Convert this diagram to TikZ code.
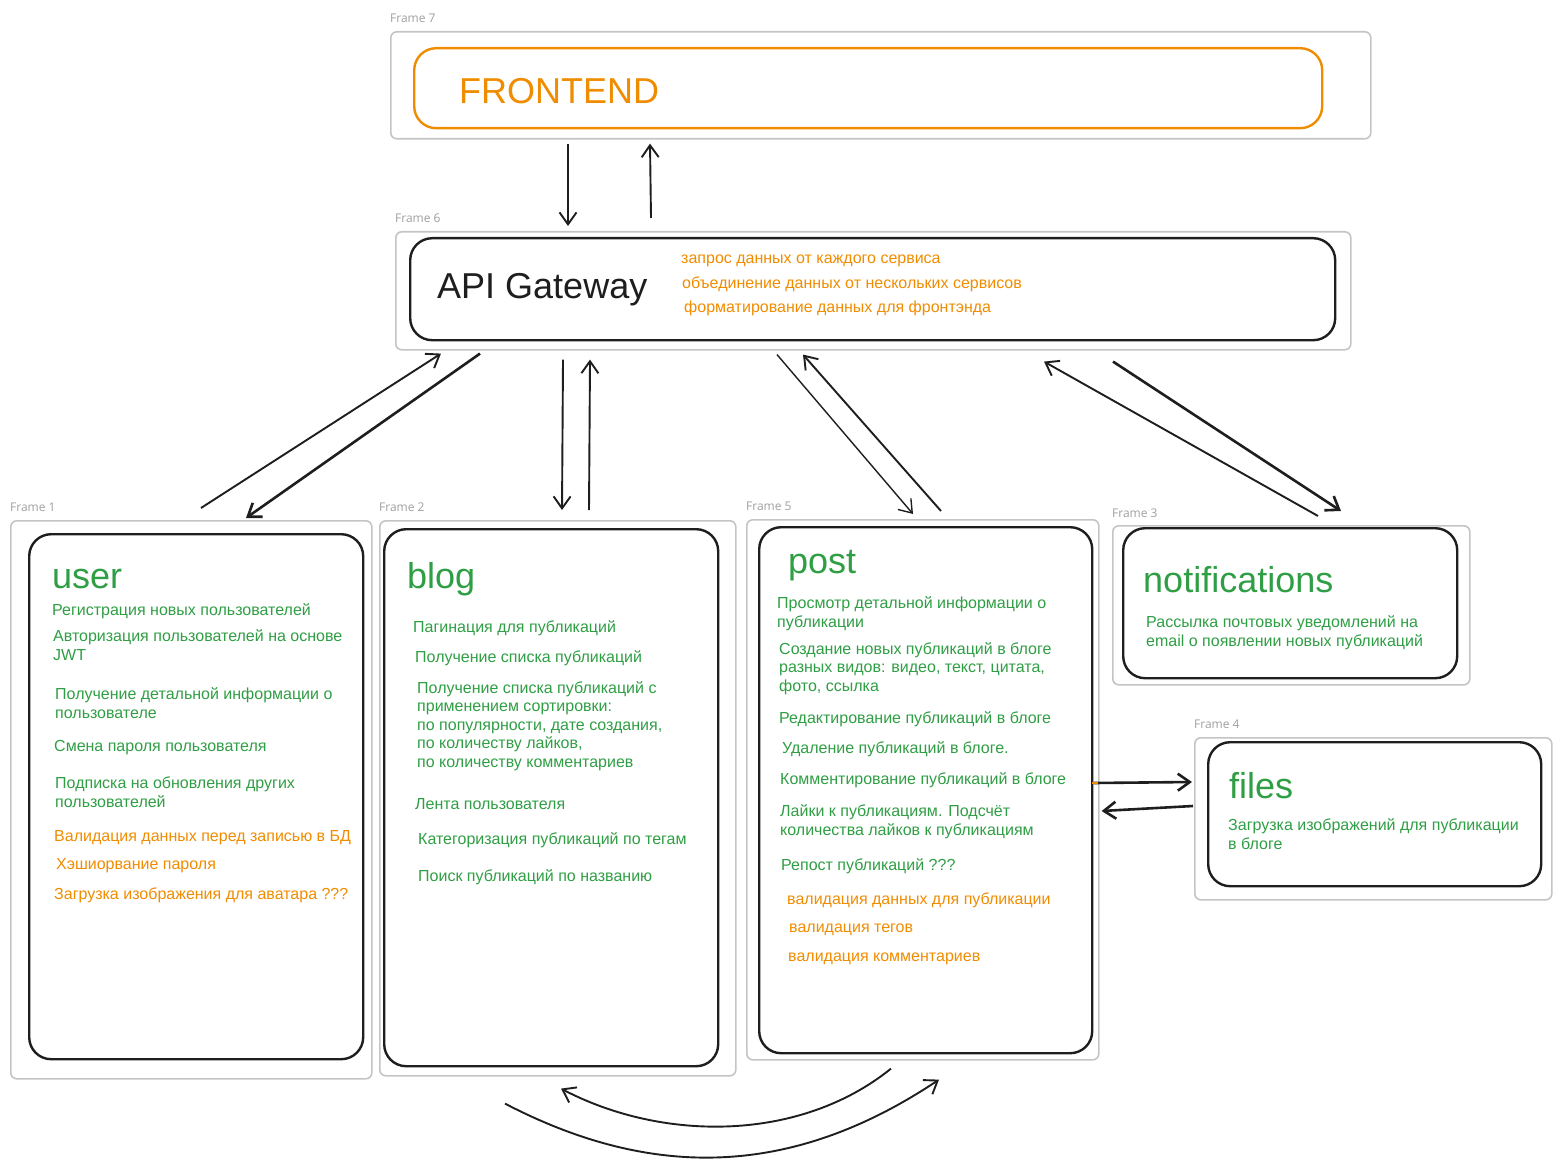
\documentclass[tikz,border=0pt]{standalone}
\usepackage{fontspec}
\setmainfont{Liberation Sans}
\newfontfamily\framefont{Open Sans}
\usetikzlibrary{arrows.meta,positioning}
\definecolor{exgreen}{HTML}{2F9E44}
\definecolor{exorange}{HTML}{F08C00}
\definecolor{framegray}{HTML}{C4C4C4}
\definecolor{inkblack}{HTML}{1E1E1E}
\newcommand{\itemstrut}{\rule{0pt}{14pt}}

\begin{document}
\begin{tikzpicture}[x=1pt,y=-1pt]
\tikzset{
  svcframe/.style={draw=framegray,line width=1.6pt,rounded corners=6pt,anchor=north west,inner sep=0pt},
  framelabel/.style={anchor=west,inner sep=0pt,text=gray!75,font=\framefont\fontsize{12}{14}\selectfont},
  service/.style={draw=inkblack,line width=2.4pt,rounded corners=22pt,anchor=north west,inner sep=0pt},
  svctitle/.style={anchor=base west,inner sep=0pt,text=exgreen,font=\fontsize{36}{40}\selectfont},
  svcitem/.style={anchor=north west,inner sep=0pt,align=left,text=exgreen,font=\fontsize{16}{19}\selectfont,execute at begin node=\itemstrut},
  svcnote/.style={svcitem,text=exorange},
  flow/.style={-{Straight Barb[length=12pt,width=17pt]},line width=1.9pt,draw=inkblack},
  heavyflow/.style={flow,line width=2.6pt}
}
\useasboundingbox (0,0) rectangle (1562,1166);

% frames
\node[svcframe,minimum width=980pt,minimum height=107pt] (fr7) at (390,31) {};
\node[svcframe,minimum width=955pt,minimum height=118pt] (fr6) at (395,231) {};
\node[svcframe,minimum width=361pt,minimum height=558pt] (fr1) at (10,520) {};
\node[svcframe,minimum width=356pt,minimum height=555pt] (fr2) at (379,520) {};
\node[svcframe,minimum width=352pt,minimum height=540pt] (fr5) at (746,519) {};
\node[svcframe,minimum width=357pt,minimum height=159pt] (fr3) at (1112,525) {};
\node[svcframe,minimum width=357pt,minimum height=162pt] (fr4) at (1194,737) {};
\node[framelabel] (lb7) at ([yshift=13pt]fr7.north west) {Frame 7};
\node[framelabel] (lb6) at ([yshift=13pt]fr6.north west) {Frame 6};
\node[framelabel] (lb1) at ([yshift=13pt]fr1.north west) {Frame 1};
\node[framelabel] (lb2) at ([yshift=13pt]fr2.north west) {Frame 2};
\node[framelabel] (lb5) at ([yshift=13pt]fr5.north west) {Frame 5};
\node[framelabel] (lb3) at ([yshift=12pt]fr3.north west) {Frame 3};
\node[framelabel] (lb4) at ([yshift=13pt]fr4.north west) {Frame 4};

% service boxes
\node[service,draw=exorange,minimum width=908pt,minimum height=80pt] (frontend) at (413,47) {};
\node[service,minimum width=925pt,minimum height=102pt] (gateway) at (409,237) {};
\node[service,minimum width=334pt,minimum height=525pt] (user) at (28,533) {};
\node[service,minimum width=334pt,minimum height=537pt] (blog) at (383,528) {};
\node[service,minimum width=333pt,minimum height=526pt] (post) at (758,526) {};
\node[service,minimum width=334pt,minimum height=150pt] (notif) at (1122,527) {};
\node[service,minimum width=333pt,minimum height=144pt] (files) at (1207,741) {};

% titles
\node[svctitle,text=exorange] (t_front) at (459,104) {FRONTEND};
\node[svctitle,text=inkblack] (t_gw) at (437,298) {API Gateway};
\node[svctitle] (t_user) at (52,588) {user};
\node[svctitle] (t_blog) at (407,588) {blog};
\node[svctitle] (t_post) at (788,573) {post};
\node[svctitle] (t_notif) at (1143,592) {notifications};
\node[svctitle] (t_files) at (1229,798) {files};

% gateway
\node[svcnote] (gw_1) at (681,249) {запрос данных от каждого сервиса};
\node[svcnote] (gw_2) at (682,274) {объединение данных от нескольких сервисов};
\node[svcnote] (gw_3) at (684,298) {форматирование данных для фронтэнда};

% user
\node[svcitem] (u_1) at (52,601) {Регистрация новых пользователей};
\node[svcitem] (u_2) at (53,629) {Авторизация пользователей на основе\\JWT};
\node[svcitem] (u_3) at (55,687) {Получение детальной информации о\\пользователе};
\node[svcitem] (u_4) at (54,737) {Смена пароля пользователя};
\node[svcitem] (u_5) at (55,777) {Подписка на обновления других\\пользователей};
\node[svcnote] (u_6) at (54,827) {Валидация данных перед записью в БД};
\node[svcnote] (u_7) at (56,855) {Хэшиорвание пароля};
\node[svcnote] (u_8) at (54,885) {Загрузка изображения для аватара ???};

% blog
\node[svcitem] (b_1) at (413,618) {Пагинация для публикаций};
\node[svcitem] (b_2) at (415,648) {Получение списка публикаций};
\node[svcitem,font=\fontsize{16}{18.5}\selectfont] (b_3) at (417,681) {Получение списка публикаций с\\применением сортировки:\\по популярности, дате создания,\\по количеству лайков,\\по количеству комментариев};
\node[svcitem] (b_4) at (415,795) {Лента пользователя};
\node[svcitem] (b_5) at (418,830) {Категоризация публикаций по тегам};
\node[svcitem] (b_6) at (418,867) {Поиск публикаций по названию};

% post
\node[svcitem] (p_1) at (777,596) {Просмотр детальной информации о\\публикации};
\node[svcitem,font=\fontsize{16}{18.5}\selectfont] (p_2) at (779,642) {Создание новых публикаций в блоге\\разных видов: видео, текст, цитата,\\фото, ссылка};
\node[svcitem] (p_3) at (779,709) {Редактирование публикаций в блоге};
\node[svcitem] (p_4) at (782,739) {Удаление публикаций в блоге.};
\node[svcitem] (p_5) at (780,770) {Комментирование публикаций в блоге};
\node[svcitem] (p_6) at (780,804) {Лайки к публикациям. Подсчёт\\количества лайков к публикациям};
\node[svcitem] (p_7) at (781,856) {Репост публикаций ???};
\node[svcnote] (p_8) at (787,890) {валидация данных для публикации};
\node[svcnote] (p_9) at (789,918) {валидация тегов};
\node[svcnote] (p_10) at (788,947) {валидация комментариев};

% notifications, files
\node[svcitem] (n_1) at (1146,615) {Рассылка почтовых уведомлений на\\email о появлении новых публикаций};
\node[svcitem] (f_1) at (1228,818) {Загрузка изображений для публикации\\в блоге};

% connectors
\draw[flow] ([xshift=178pt,yshift=-4pt]fr7.south west) -- ([xshift=173pt,yshift=5pt]fr6.north west);
\draw[flow] ([xshift=256pt,yshift=13pt]fr6.north west) -- ([xshift=260pt,yshift=-4pt]fr7.south west);
\draw[flow] ([xshift=191pt,yshift=12pt]fr1.north west) -- ([xshift=46pt,yshift=-3pt]fr6.south west);
\draw[heavyflow] ([xshift=85pt,yshift=-3pt]fr6.south west) -- ([xshift=236pt,yshift=2pt]fr1.north west);
\draw[flow] ([xshift=168pt,yshift=-9pt]fr6.south west) -- ([xshift=183pt,yshift=10pt]fr2.north west);
\draw[flow] ([xshift=210pt,yshift=10pt]fr2.north west) -- ([xshift=195pt,yshift=-9pt]fr6.south west);
\draw[flow,line width=1.4pt] ([xshift=382pt,yshift=-4pt]fr6.south west) -- ([xshift=167pt,yshift=5pt]fr5.north west);
\draw[flow] ([xshift=195pt,yshift=8pt]fr5.north west) -- ([xshift=408pt,yshift=-4pt]fr6.south west);
\draw[flow] ([xshift=206pt,yshift=9pt]fr3.north west) -- ([xshift=649pt,yshift=-11pt]fr6.south west);
\draw[heavyflow] ([xshift=718pt,yshift=-11pt]fr6.south west) -- ([xshift=229pt,yshift=14pt]fr3.north west);
\draw[heavyflow] ([xshift=-6pt,yshift=-264pt]fr5.north east) -- ([xshift=-2pt,yshift=-45pt]fr4.north west);
\draw[exorange,line width=2.6pt] ([xshift=-8pt,yshift=-264pt]fr5.north east) -- ++(6,0);
\draw[heavyflow] ([xshift=-1pt,yshift=-69pt]fr4.north west) -- ([xshift=2pt,yshift=-292pt]fr5.north east);
\draw[flow] ([xshift=145pt,yshift=-8pt]fr5.south west) .. controls (800,1142) and (663,1142) .. ([xshift=182pt,yshift=-12pt]fr2.south west);
\draw[flow] ([xshift=126pt,yshift=-27pt]fr2.south west) .. controls (650,1179) and (790,1179) .. ([xshift=193pt,yshift=-19pt]fr5.south west);
\end{tikzpicture}
\end{document}
